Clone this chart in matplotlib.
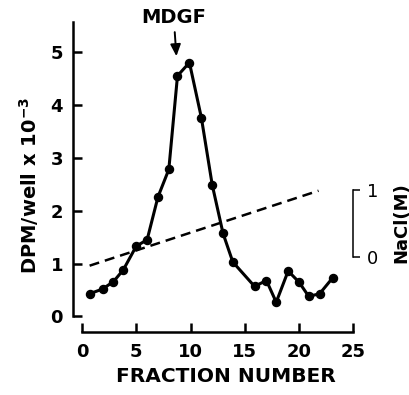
import matplotlib
matplotlib.use('Agg')
import matplotlib.pyplot as plt

plt.rcParams['font.family'] = ['DejaVu Sans']
plt.rcParams['mathtext.fontset'] = 'custom'
plt.rcParams['mathtext.bf'] = 'DejaVu Sans:bold'
plt.rcParams['mathtext.rm'] = 'DejaVu Sans:bold'

# activity profile (DPM/well x 10^-3) per fraction
fraction = [0.7, 1.9, 2.9, 3.8, 5, 6, 7, 8, 8.8, 9.9, 11, 12, 13, 13.9,
            15.9, 17, 17.9, 19, 20, 20.9, 21.9, 23.1]
dpm = [0.43, 0.52, 0.66, 0.88, 1.33, 1.45, 2.26, 2.78, 4.55, 4.80, 3.76, 2.49,
       1.57, 1.03, 0.57, 0.68, 0.27, 0.86, 0.65, 0.38, 0.43, 0.73]

# NaCl gradient (M)
grad_x = [0.7, 21.8]
grad_nacl = [-0.13, 0.99]

x_ticks = [0, 5, 10, 15, 20, 25]
y_ticks = [0, 1, 2, 3, 4, 5]

ylo, yhi = -0.293, 5.567
nacl0, nacl_scale = 1.125, 1.265

fig = plt.figure(figsize=(4.1, 3.95), dpi=100)
ax = fig.add_axes([0.1773, 0.1595, 0.6922, 0.7848])

ax.plot(fraction, dpm, color='black', lw=2.2, marker='o', ms=5.8, zorder=3)
ax.set_xlim(-0.86, 25.3)
ax.set_ylim(ylo, yhi)

for s in ['top', 'right']:
    ax.spines[s].set_visible(False)
ax.spines['left'].set_linewidth(1.8)
ax.spines['bottom'].set_linewidth(1.8)
ax.spines['left'].set_bounds(0, yhi)
ax.spines['bottom'].set_bounds(0, 25)

ax.set_xticks(x_ticks)
ax.set_yticks(y_ticks)
ax.tick_params(axis='both', direction='in', length=6.5, width=1.8, labelsize=13)
ax.tick_params(axis='x', pad=8)
ax.tick_params(axis='y', pad=7)
for lab in ax.get_xticklabels() + ax.get_yticklabels():
    lab.set_fontweight('bold')

ax.set_xlabel('FRACTION NUMBER', fontsize=14.5, fontweight='bold')
ax.xaxis.set_label_coords(0.54, -0.112)
ax.set_ylabel(r'DPM/well x 10$^{\mathbf{-3}}$', fontsize=14, fontweight='bold')
ax.yaxis.set_label_coords(-0.11, 0.474)

ax.annotate('MDGF', xy=(8.7, 4.92), xytext=(8.45, 5.66),
            ha='center', va='center', fontsize=14, fontweight='bold',
            annotation_clip=False,
            arrowprops=dict(arrowstyle='-|>,head_width=0.22,head_length=0.5',
                            color='black', lw=1.4, shrinkA=2, shrinkB=0))

ax2 = ax.twinx()
ax2.set_ylim((ylo - nacl0) / nacl_scale, (yhi - nacl0) / nacl_scale)
ax2.plot(grad_x, grad_nacl, color='black', lw=1.8, linestyle=(0, (4, 2.4)))
for s in ['top', 'left', 'bottom']:
    ax2.spines[s].set_visible(False)
ax2.spines['right'].set_position(('data', 25))
ax2.spines['right'].set_bounds(0, 1)
ax2.spines['right'].set_linewidth(1.1)
ax2.set_yticks([0, 1])
ax2.tick_params(axis='y', direction='out', length=5, width=1.1, labelsize=13, pad=5)
ax2.set_ylabel('NaCl(M)', fontsize=13, fontweight='bold')
ax2.yaxis.set_label_coords(1.128, 0.352)

fig.savefig('out.png', dpi=100)
